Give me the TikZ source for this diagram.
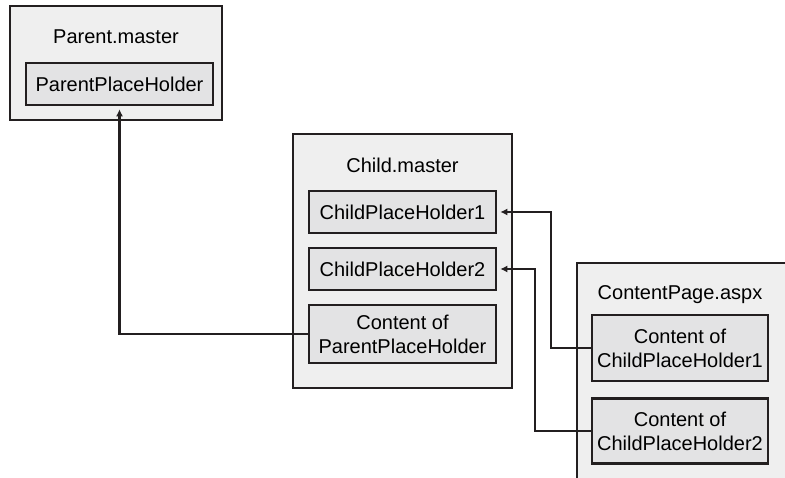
\documentclass[tikz,border=0pt]{standalone}
\usepackage{fontspec}
\setmainfont{Liberation Sans}
\usetikzlibrary{arrows.meta}
\definecolor{pagefill}{HTML}{EFEFEF}
\definecolor{holderfill}{HTML}{E3E3E4}
\definecolor{ink}{HTML}{231F20}
\tikzset{
    pagebox/.style={draw=ink, line width=2.6pt, fill=pagefill, inner sep=0pt},
    holder/.style={draw=ink, line width=2.6pt, fill=holderfill, inner sep=0pt, align=center, font=\fontsize{20}{24}\selectfont},
    pagetitle/.style={inner sep=0pt, font=\fontsize{20}{24}\selectfont},
    conn/.style={draw=ink, line width=2.4pt, -{Latex[length=7pt,width=7pt]}, shorten >=3pt}
}
\begin{document}
\begin{tikzpicture}[x=1pt,y=-1pt]
    \useasboundingbox (0,0) rectangle (785,478);
    % outer pages
    \node[pagebox, minimum width=212pt, minimum height=114pt] (parentmaster) at (116,63) {};
    \node[pagebox, minimum width=219pt, minimum height=254pt] (childmaster) at (402.5,261) {};
    \fill[pagefill] (577,263) rectangle (785,478);
    \draw[ink, line width=2.6pt] (785,263) -- (577,263) -- (577,478);
    \node[pagetitle] (parenttitle) at (116,37) {Parent.master};
    \node[pagetitle] (childtitle) at (402.5,165) {Child.master};
    \node[pagetitle] (contenttitle) at (680,295) {ContentPage.aspx};
    % place holders
    \node[holder, minimum width=187pt, minimum height=42pt] (pph) at (119.5,84) {ParentPlaceHolder};
    \node[holder, minimum width=187pt, minimum height=42pt] (cph1) at (402.5,212) {ChildPlaceHolder1};
    \node[holder, minimum width=187pt, minimum height=42pt] (cph2) at (402.5,269) {ChildPlaceHolder2};
    \node[holder, minimum width=187pt, minimum height=58pt] (cpph) at (402.5,334) {Content of\\ParentPlaceHolder};
    \node[holder, minimum width=176pt, minimum height=66pt] (ccph1) at (680,348) {Content of\\ChildPlaceHolder1};
    \node[holder, minimum width=176pt, minimum height=65pt] (ccph2) at (680,431) {Content of\\ChildPlaceHolder2};
    % connectors
    \draw[conn] (cpph.west) -| (pph.south);
    \draw[conn] (ccph1.west) -- ++(-40,0) |- (cph1.east);
    \draw[conn] (ccph2.west) -- ++(-56,0) |- (cph2.east);
\end{tikzpicture}
\end{document}
